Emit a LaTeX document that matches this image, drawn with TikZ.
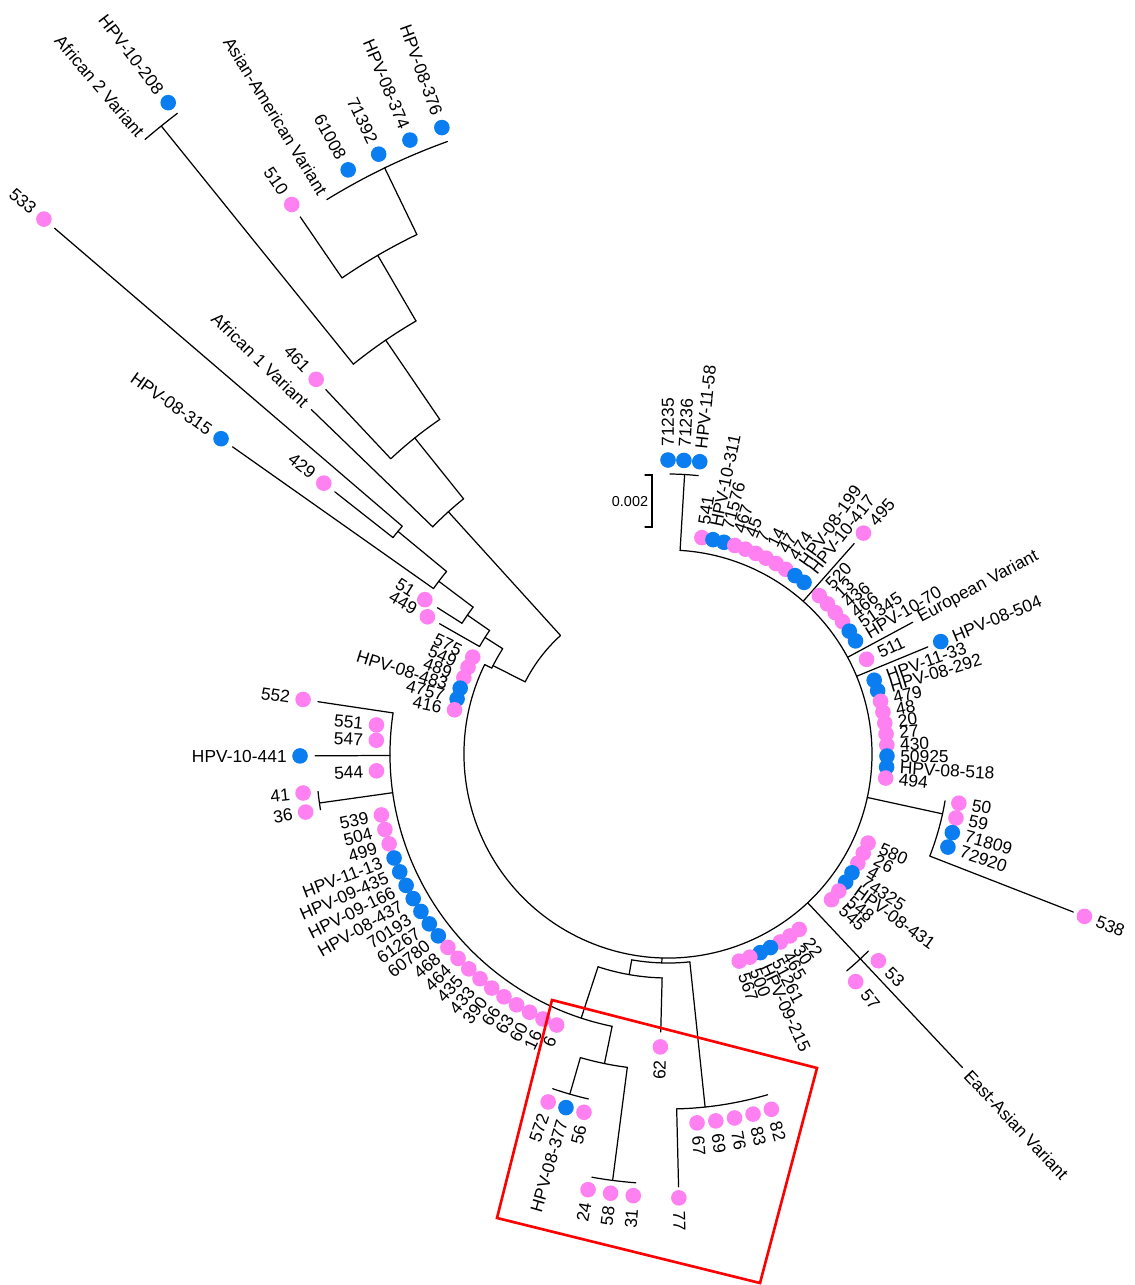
\documentclass[tikz,border=0pt]{standalone}
\usepackage{fontspec}
\setmainfont{Liberation Sans}
\usetikzlibrary{calc}
\definecolor{TipPink}{HTML}{FF80F0}
\definecolor{TipBlue}{HTML}{0A7DF0}
\definecolor{BoxRed}{HTML}{FF0000}
\definecolor{InkDark}{HTML}{000000}
\tikzset{
  branch/.style={line width=0.7pt, draw=InkDark, line cap=round},
  pinkdot/.style={fill=TipPink},
  bluedot/.style={fill=TipBlue},
  tiplab/.style={font=\fontsize{9.9}{10}\selectfont, inner sep=0pt, text=InkDark},
  barlab/.style={font=\fontsize{8.2}{9}\selectfont, inner sep=0pt, text=InkDark},
  boxline/.style={line width=1.5pt, draw=BoxRed},
}
% radial branch: angle, inner r, outer r
\newcommand{\rline}[3]{\draw[branch] (#1:#2) -- (#1:#3);}
% node arc: from angle, to angle, r
\newcommand{\rarc}[3]{\draw[branch] (#1:#3) arc[start angle=#1, end angle=#2, radius=#3];}
% leaf: angle, r, dot style, label
\newcommand{\leaf}[4]{%
  \pgfmathsetmacro{\lfr}{#2+13}%
  \pgfmathtruncatemacro{\lfside}{cos(#1)<0}%
  \fill[#3] (#1:#2) circle[radius=7.8];%
  \ifnum\lfside=1
    \node[tiplab, anchor=east, rotate=#1+180] (t-#4) at (#1:\lfr) {#4};%
  \else
    \node[tiplab, anchor=west, rotate=#1] (t-#4) at (#1:\lfr) {#4};%
  \fi}
% variant label without dot: angle, r, name, text
\newcommand{\varlab}[4]{%
  \pgfmathtruncatemacro{\lfside}{cos(#1)<0}%
  \ifnum\lfside=1
    \node[tiplab, anchor=east, rotate=#1+180] (#3) at (#1:#2) {#4};%
  \else
    \node[tiplab, anchor=west, rotate=#1] (#3) at (#1:#2) {#4};%
  \fi}
% fan of leaves: start angle, step, r, list label/style
\newcommand{\fan}[4]{%
  \foreach \lab/\sty [count=\k from 0] in {#4} {
    \pgfmathsetmacro{\ang}{#1+\k*#2}
    \leaf{\ang}{#3}{\sty}{\lab}
  }}

\begin{document}
\begin{tikzpicture}[x=0.02cm, y=0.02cm]
\useasboundingbox (0,0) rectangle (1135,-1285);
\begin{scope}[shift={(668,-754)}]
% ---------------------------------------------------------------- backbone circle
\rarc{154}{446.6}{204}
% ---------------------------------------------------------------- root and upper-left lineages
\rarc{132.2}{153.2}{160}
\rline{153.2}{160}{196}
\rarc{147.5}{154}{196}
\rline{154}{196}{204}
\rline{147.5}{196}{217}
\rarc{145.3}{150.3}{217}
\rline{150.3}{217}{263}
\leaf{150.3}{277}{pinkdot}{449}
\rline{145.3}{217}{244}
\rarc{143}{147.6}{244}
\rline{147.6}{244}{273}
\leaf{147.6}{288}{pinkdot}{51}
\rline{143}{244}{287}
\rarc{140.5}{144.8}{287}
\rline{144.8}{287}{533}
\leaf{144.8}{547}{bluedot}{HPV-08-315}
\rline{140.5}{287}{350}
\rarc{139.4}{141.8}{350}
\rline{141.8}{350}{424}
\leaf{141.8}{438}{pinkdot}{429}
\rline{139.4}{350}{808}
\leaf{139.4}{822}{pinkdot}{533}
% ---------------------------------------------------------------- African / Asian-American
\rline{132.2}{160}{327}
\rarc{128.7}{136}{327}
\rline{136}{327}{496}
\varlab{136}{503}{afr1}{African 1 Variant}
\rline{128.7}{327}{405}
\rarc{124.3}{133.2}{405}
\rline{133.2}{405}{500}
\leaf{133.2}{514}{pinkdot}{461}
\rline{124.3}{405}{501}
\rarc{120.2}{128.9}{501}
\rline{128.9}{501}{807}
\rarc{127.45}{130.4}{807}
\leaf{127.5}{821}{bluedot}{HPV-10-208}
\varlab{130.4}{813}{afr2}{African 2 Variant}
\rline{120.2}{501}{577}
\rarc{115.8}{124.4}{577}
\rline{124.4}{577}{651}
\leaf{124.4}{666}{pinkdot}{510}
\rline{115.8}{577}{651}
\rarc{109.8}{121.6}{651}
\varlab{121.6}{658}{asam}{Asian-American Variant}
\fan{118.7}{-2.95}{666}{61008/bluedot, 71392/bluedot, HPV-08-374/bluedot, HPV-08-376/bluedot}
% ---------------------------------------------------------------- top and right side
\rline{86.6}{204}{280}
\rarc{83.8}{89.6}{280}
\fan{90}{-3.1}{294}{71235/bluedot, 71236/bluedot, HPV-11-58/bluedot}
\fan{81.1}{-2.95}{219}{541/pinkdot, HPV-10-311/bluedot, 71576/bluedot, 467/pinkdot, 45/pinkdot, 7/pinkdot, 14/pinkdot, 47/pinkdot, 474/pinkdot, HPV-08-199/bluedot, HPV-10-417/bluedot}
\rline{48.5}{204}{281}
\leaf{48.5}{295}{pinkdot}{495}
\fan{46.3}{-3.04}{219}{520/pinkdot, 13/pinkdot, 436/pinkdot, 466/pinkdot, 51345/bluedot, HPV-10-70/bluedot}
\rline{28.3}{204}{278}
\varlab{28.3}{285}{euro}{European Variant}
\leaf{25.5}{220}{pinkdot}{511}
\rline{22.4}{204}{281}
\leaf{22.4}{295}{bluedot}{HPV-08-504}
\fan{19.7}{-2.89}{219}{HPV-11-33/bluedot, HPV-08-292/bluedot, 479/pinkdot, 48/pinkdot, 20/pinkdot, 27/pinkdot, 430/pinkdot, 50925/bluedot, HPV-08-518/bluedot, 494/pinkdot}
\rline{-12.3}{204}{281}
\rarc{-9.6}{-21.3}{281}
\fan{-9.6}{-2.93}{295}{50/pinkdot, 59/pinkdot, 71809/bluedot, 72920/bluedot}
\rline{-21.3}{281}{435}
\leaf{-21.3}{447}{pinkdot}{538}
\fan{-24}{-2.95}{219}{580/pinkdot, 26/pinkdot, 4/pinkdot, 74325/bluedot, HPV-08-431/bluedot, 548/pinkdot, 545/pinkdot}
\rline{-46.8}{204}{281}
\rarc{-44.5}{-50.5}{281}
\leaf{-44.5}{295}{pinkdot}{53}
\leaf{-50.5}{295}{pinkdot}{57}
\rline{-46.8}{281}{430}
\varlab{-46.8}{437}{easia}{East-Asian Variant}
\fan{-53.2}{-2.97}{219}{22/pinkdot, 30/pinkdot, 465/pinkdot, 51261/bluedot, HPV-09-215/bluedot, 500/pinkdot, 567/pinkdot}
% ---------------------------------------------------------------- bottom lineages
\rline{-91.7}{204}{209}
\rarc{-100}{-84}{209}
\rline{-100}{209}{224}
\rarc{-108.2}{-91.5}{224}
\rline{-91.5}{224}{278}
\leaf{-91.5}{293}{pinkdot}{62}
\rline{-108.2}{224}{278}
\rarc{171.5}{258.4}{278}
\rline{258.4}{278}{316}
\rarc{253.9}{262.6}{316}
\rline{253.9}{316}{354}
\rarc{251}{257}{354}
\fan{251}{2.9}{368}{572/pinkdot, HPV-08-377/bluedot, 56/pinkdot}
\rline{262.6}{316}{430}
\rarc{259.8}{265.7}{430}
\fan{259.6}{2.95}{443}{24/pinkdot, 58/pinkdot, 31/pinkdot}
\rline{-84}{209}{355}
\rarc{-88.6}{-73.7}{355}
\rline{-88.6}{355}{433}
\leaf{-88.6}{444}{pinkdot}{77}
\fan{-85.5}{2.93}{370}{67/pinkdot, 69/pinkdot, 76/pinkdot, 83/pinkdot, 82/pinkdot}
% ---------------------------------------------------------------- left lineages
\rline{171.5}{278}{354}
\leaf{171.5}{369}{pinkdot}{552}
\leaf{174.3}{293}{pinkdot}{551}
\leaf{177.3}{292}{pinkdot}{547}
\rline{180.3}{278}{353}
\leaf{180.3}{368}{bluedot}{HPV-10-441}
\leaf{183.3}{292}{pinkdot}{544}
\rline{188}{278}{352}
\rarc{186.1}{189.1}{352}
\leaf{186.1}{367}{pinkdot}{41}
\leaf{189.1}{367}{pinkdot}{36}
\fan{192}{2.93}{293}{539/pinkdot, 504/pinkdot, 499/pinkdot, HPV-11-13/bluedot, HPV-09-435/bluedot, HPV-09-166/bluedot, HPV-08-437/bluedot, 70193/bluedot, 61267/bluedot, 60780/bluedot, 468/pinkdot, 464/pinkdot, 435/pinkdot, 433/pinkdot, 390/pinkdot, 66/pinkdot, 63/pinkdot, 60/pinkdot, 16/pinkdot, 6/pinkdot}
\fan{153.6}{2.94}{218}{575/pinkdot, 549/pinkdot, 489/pinkdot, HPV-08-483/bluedot, 4757/bluedot, 416/pinkdot}
\end{scope}
% ---------------------------------------------------------------- scale bar
\coordinate (bartop) at (652,-475);
\coordinate (barbot) at (652,-527);
\draw[branch] ($(bartop)+(-7,0)$) -- (bartop) -- (barbot) -- ($(barbot)+(-7,0)$);
\node[barlab] (barval) at (630,-502) {0.002};
% ---------------------------------------------------------------- highlight box
\draw[boxline] (552,-1000) -- (817,-1068) -- (760,-1283) -- (497,-1218) -- cycle;
\end{tikzpicture}
\end{document}
